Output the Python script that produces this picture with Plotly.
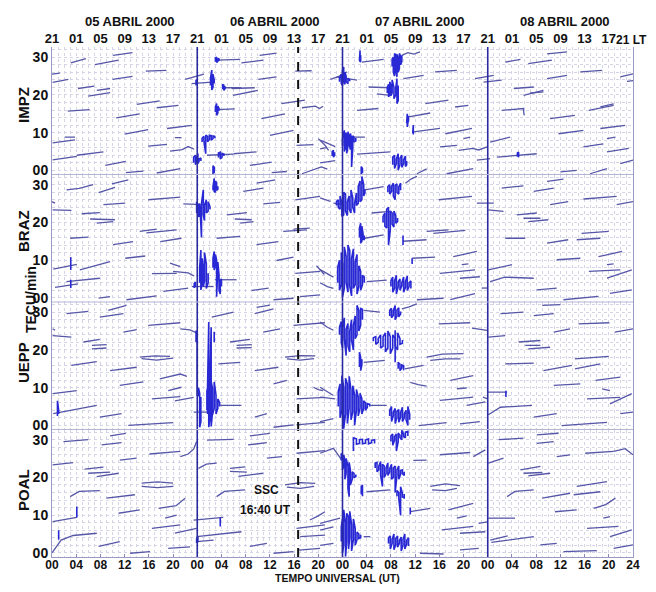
import plotly.graph_objects as go

# ---------------- data (hours UT since 05 Apr 00 UT, TEC rate offset units) -------------
STATIONS = ["IMPZ", "BRAZ", "UEPP", "POAL"]
UT_TICKS = list(range(0, 97, 4))
UT_LABELS = ["00", "04", "08", "12", "16", "20"] * 4 + ["24"]
LT_LABELS = ["21", "01", "05", "09", "13", "17"] * 4 + [""]
LT_END_LABEL = "21 LT"
Y_TICKS = [0, 10, 20, 30]
Y_LABELS = ["00", "10", "20", "30"]
DATES = ["05 ABRIL 2000", "06 ABRIL 2000", "07 ABRIL 2000", "08 ABRIL 2000"]
DATE_POS = [12.9, 36.9, 60.8, 84.8]
DAY_BOUNDS = [24, 48, 72]
SSC_TIME = 40.67

# segments: flattened (t, value) points of each satellite pass
IMPZ_SEGS = [
    (0.0, 25.5, 1.3, 25.8), (0.1, 23.3, 2.7, 24.1), (3.1, 28.5, 5.6, 29.6), (7.1, 28.0, 11.0, 29.2),
    (10.1, 30.5, 13.3, 31.2), (4.3, 21.7, 7.0, 22.3), (7.4, 21.2, 9.6, 21.7), (6.0, 19.7, 9.6, 20.6),
    (10.0, 24.1, 13.3, 24.9), (15.5, 26.3, 18.9, 26.5), (22.0, 24.1, 25.1, 25.5), (2.6, 15.7, 6.2, 16.1),
    (10.6, 13.9, 14.5, 15.0), (14.0, 17.5, 17.8, 18.4), (17.3, 16.6, 20.9, 17.2), (0.1, 7.3, 3.8, 8.1),
    (2.1, 8.8, 3.8, 8.8), (12.0, 9.6, 15.9, 10.8), (19.0, 11.1, 23.1, 11.9), (20.3, 8.7, 21.4, 8.7),
    (15.9, 6.4, 19.0, 6.9), (19.5, 5.1, 21.5, 5.5, 22.5, 6.3, 23.5, 5.6), (0.1, 2.8, 4.1, 3.7),
    (4.1, 4.0, 8.5, 4.9), (8.8, 1.3, 12.2, 2.4), (12.2, -0.6, 15.1, -0.2), (17.3, -0.7, 21.2, 0.45),
    (23.1, 23.0, 26.4, 23.4), (27.2, 29.2, 31.1, 29.4), (28.4, 21.9, 31.3, 21.9), (27.2, 16.1, 30.2, 16.3),
    (25.6, 4.0, 30.0, 4.3), (30.0, 4.4, 33.8, 4.9), (29.7, 21.7, 33.5, 21.9), (29.9, 19.9, 34.0, 21.2),
    (31.3, 28.5, 34.9, 29.2), (34.3, 30.5, 37.1, 31.1), (34.1, 24.1, 37.1, 24.8), (34.6, 13.7, 38.5, 15.0),
    (36.0, 9.3, 39.9, 10.6), (32.7, 1.3, 36.3, 2.2), (36.3, -0.6, 38.8, -0.3), (37.9, 17.7, 41.8, 18.6),
    (40.2, 26.3, 42.9, 26.4), (40.4, 6.6, 43.2, 6.8), (41.3, 16.6, 43.5, 17.0, 44.2, 16.4, 44.8, 17.0),
    (41.3, -0.9, 43.5, 0.2, 44.5, 0.9, 45.5, 0.3), (44.0, 8.4, 44.6, 7.4, 45.2, 6.5, 45.7, 5.3),
    (44.3, 5.7, 45.4, 6.0), (46.0, 24.1, 47.5, 25.0, 48.7, 26.1), (47.0, 24.8, 50.4, 23.9),
    (44.3, 2.0, 46.8, 2.6), (44.3, 8.0, 45.5, 7.2, 46.8, 6.3),
    (49.8, 8.8, 51.7, 8.8), (50.4, 4.3, 55.9, 4.9), (51.2, 28.7, 54.8, 29.4), (52.3, 22.1, 55.9, 21.9),
    (50.4, 15.9, 53.9, 16.4), (57.8, 30.5, 58.8, 31.2, 59.8, 30.8, 60.8, 31.4), (53.7, 20.3, 55.9, 19.9),
    (58.1, 24.3, 61.4, 25.2), (58.7, 14.1, 62.5, 15.2), (59.7, 10.2, 64.1, 11.1), (60.3, -0.9, 61.9, 0.4),
    (61.7, 17.7, 65.5, 18.6), (63.3, 26.1, 66.9, 26.5), (64.1, 6.2, 66.9, 6.6), (65.0, 9.7, 69.4, 11.1),
    (65.2, -0.9, 69.6, 0.45), (66.6, 16.8, 68.8, 17.2), (68.0, 8.4, 69.1, 8.8),
    (67.2, 5.3, 69.5, 5.8, 70.5, 5.4, 71.9, 6.2), (69.9, 24.3, 73.0, 25.2), (71.3, 23.4, 74.3, 23.9),
    (70.2, 2.7, 72.4, 3.1),
    (74.9, 28.7, 77.4, 29.4), (78.7, 28.3, 82.6, 29.2), (81.8, 30.9, 85.1, 31.4), (76.3, 21.7, 79.6, 22.1),
    (77.9, 19.9, 81.2, 21.2), (79.0, 20.5, 81.2, 20.8), (81.8, 24.3, 85.1, 25.2), (87.3, 26.1, 90.9, 26.5),
    (74.3, 15.9, 77.9, 16.4, 78.0, 14.6), (82.3, 13.7, 86.4, 14.6), (88.7, 15.9, 92.8, 17.2),
    (90.6, 16.8, 92.8, 17.6), (83.7, 9.7, 87.8, 10.6), (90.6, 11.1, 94.7, 11.9), (91.7, 8.4, 93.1, 8.8),
    (87.8, 6.2, 91.1, 7.0), (91.7, 4.9, 95.3, 5.8), (93.9, 24.8, 96.0, 25.6), (95.0, 23.6, 96.0, 23.8),
    (93.9, 1.8, 96.0, 2.7), (73.5, 3.5, 80.1, 4.4), (72.4, 7.5, 75.7, 8.8), (84.0, -0.4, 86.7, 0.0),
    (88.9, -0.9, 91.7, 0.45),
]
BRAZ_SEGS = [
    (2.4, 28.6, 4.5, 29.0, 6.8, 30.0), (7.7, 27.9, 10.4, 29.3), (9.9, 30.2, 12.6, 31.3), (0.0, 25.5, 0.5, 25.1),
    (0.1, 23.3, 3.2, 23.2), (8.5, 24.7, 12.1, 25.1), (15.9, 26.0, 21.2, 26.7), (21.7, 24.9, 25.0, 24.7),
    (4.9, 22.3, 7.9, 22.6), (6.3, 20.9, 10.4, 20.7), (7.4, 19.8, 10.1, 20.2), (14.5, 17.6, 17.3, 18.2),
    (15.6, 17.2, 20.6, 18.0), (3.0, 15.8, 6.0, 16.1), (10.1, 14.1, 13.4, 14.9), (17.9, 14.9, 21.4, 15.8),
    (0.2, 7.6, 4.1, 8.9), (4.6, 7.4, 9.6, 9.6), (12.1, 10.5, 15.4, 11.1), (19.5, 9.2, 21.2, 8.3),
    (16.5, 6.4, 20.6, 6.5), (20.0, 7.0, 22.5, 6.6, 23.5, 5.8), (0.5, 2.8, 4.3, 3.7), (2.4, 4.3, 7.9, 5.2),
    (12.3, -0.5, 17.3, 0.5), (7.7, -0.1, 9.6, 0.35), (18.4, 1.7, 22.5, 2.6),
    (23.1, 3.0, 26.7, 3.0), (26.9, 4.8, 30.5, 4.8), (28.9, 22.0, 32.2, 22.6), (31.6, 28.2, 34.9, 29.1),
    (33.8, 30.4, 36.9, 31.3), (34.9, 24.9, 37.7, 25.3), (30.2, 20.9, 33.0, 20.7), (31.1, 19.8, 33.3, 20.2),
    (38.2, 17.6, 42.1, 18.0), (39.9, 18.2, 42.6, 18.5), (27.2, 15.8, 31.1, 16.3), (33.8, 14.1, 37.4, 14.9),
    (37.1, 9.9, 39.9, 10.8), (33.0, 1.95, 35.8, 2.6), (36.6, -0.5, 39.9, -0.1), (40.2, 26.0, 44.3, 26.9),
    (40.2, 6.5, 44.3, 7.0), (43.7, 8.5, 44.3, 7.5, 45.0, 6.2), (41.0, 0.35, 44.3, 0.8),
    (44.3, 26.5, 45.5, 25.8, 46.0, 25.6), (46.5, 25.1, 48.2, 24.7), (44.3, 7.5, 45.5, 6.5, 46.5, 5.5),
    (44.3, 4.0, 45.5, 3.0, 46.5, 2.5),
    (51.7, 28.6, 54.8, 29.5), (58.4, 30.4, 59.3, 31.5, 60.3, 32.2), (52.8, 22.5, 55.9, 22.9),
    (51.7, 15.8, 54.8, 16.7), (58.0, 15.0, 61.9, 15.4), (52.0, 4.3, 55.3, 4.7), (59.5, 10.5, 63.3, 10.8),
    (60.3, -0.5, 64.7, -0.1), (63.9, 26.0, 69.4, 26.9), (61.9, 17.6, 65.5, 18.0), (63.0, 17.1, 68.3, 17.9),
    (66.3, 10.9, 70.2, 12.3), (67.7, 8.8, 68.8, 9.0), (64.1, 6.5, 69.9, 7.4), (67.4, 5.2, 70.7, 5.6),
    (70.2, 25.1, 73.0, 25.1), (65.8, -0.5, 69.9, 1.1), (71.0, 2.6, 71.9, 2.6),
    (74.3, 29.1, 77.9, 29.7), (79.6, 28.2, 82.9, 29.1), (81.8, 30.9, 84.5, 31.5), (72.1, 23.3, 74.6, 22.9),
    (76.8, 22.0, 80.1, 22.5), (77.9, 21.1, 80.7, 21.1), (78.7, 20.2, 82.0, 20.7), (82.3, 24.7, 85.3, 25.5),
    (87.8, 26.2, 93.3, 26.9), (93.3, 24.7, 96.0, 25.5), (74.9, 15.8, 78.2, 15.8), (81.8, 14.5, 85.3, 15.4),
    (86.7, 15.4, 90.6, 15.8), (87.5, 17.1, 92.0, 17.6), (83.4, 10.1, 87.3, 10.5), (90.3, 10.9, 94.2, 12.3),
    (91.7, 8.8, 92.8, 9.0), (72.1, 7.4, 76.0, 8.8), (88.7, 7.0, 93.9, 7.4), (91.7, 5.2, 95.8, 7.4),
    (72.4, 4.3, 74.8, 5.5, 79.6, 5.2), (80.1, 2.1, 83.4, 2.6), (84.5, -0.5, 90.3, 0.4), (92.2, 1.2, 95.8, 2.1),
]
UEPP_SEGS = [
    (2.4, 29.6, 6.0, 30.2), (7.9, 28.7, 11.8, 29.6), (9.3, 30.5, 12.3, 31.8), (0.1, 23.8, 3.2, 23.4),
    (0.1, 25.6, 0.5, 25.2), (11.8, 24.7, 14.0, 25.4), (15.9, 26.5, 21.2, 27.2),
    (21.2, 25.6, 22.8, 25.3, 23.9, 24.5), (5.2, 22.1, 7.9, 22.8), (6.6, 21.2, 9.0, 21.4), (6.6, 20.3, 9.0, 20.5),
    (14.5, 18.1, 17.0, 18.4, 19.5, 18.3), (14.8, 17.7, 17.3, 17.3, 20.0, 17.8), (3.2, 15.9, 7.4, 16.9),
    (9.6, 14.5, 14.0, 15.4), (17.8, 12.3, 20.0, 13.2, 21.2, 13.6, 22.3, 13.0), (0.1, 8.4, 4.1, 9.2),
    (11.2, 10.6, 15.1, 11.5), (19.2, 9.2, 21.4, 10.1), (16.5, 7.0, 21.2, 7.6), (20.3, 6.5, 23.4, 7.4),
    (0.2, 3.1, 3.0, 4.0, 7.4, 5.3), (7.9, 2.2, 11.5, 3.1), (12.6, 0.0, 20.0, 0.7),
    (23.4, 3.5, 26.7, 3.5), (26.4, 28.7, 30.0, 30.0), (27.5, 16.3, 31.1, 16.7), (27.8, 5.3, 31.3, 5.3),
    (29.4, 22.1, 32.7, 22.8), (30.5, 21.2, 33.0, 21.4), (30.5, 20.5, 33.0, 20.6), (33.5, 29.6, 36.6, 30.9),
    (33.8, 31.3, 36.0, 31.9), (34.9, 24.7, 37.7, 25.6), (33.5, 14.5, 37.4, 15.4), (36.6, 11.0, 38.8, 11.9),
    (33.5, 2.2, 35.5, 3.1), (36.6, -0.5, 39.9, 0.1), (38.5, 18.1, 41.0, 18.5, 43.5, 18.4),
    (38.8, 17.6, 41.0, 17.3, 43.3, 17.7), (39.9, 26.5, 45.1, 27.2), (40.4, 7.0, 45.1, 7.4),
    (43.2, 10.1, 44.0, 9.5, 44.8, 9.2), (40.4, 0.1, 45.1, 0.8), (44.3, 27.4, 45.5, 26.0, 46.5, 25.2),
    (44.3, 10.1, 45.5, 8.8, 46.5, 7.9), (44.3, 7.5, 46.8, 7.0), (44.3, 1.0, 46.5, 1.8),
    (51.5, 30.5, 54.2, 30.0), (57.8, 30.9, 59.0, 31.4, 60.3, 32.2), (51.5, 16.7, 55.0, 17.2),
    (58.3, 15.0, 61.4, 15.9), (52.6, 5.3, 55.3, 5.3), (59.2, 11.4, 60.5, 10.8, 61.9, 10.4),
    (60.6, -0.05, 65.2, 0.7), (63.9, 26.9, 69.1, 27.2), (61.9, 18.1, 64.5, 18.9, 68.0, 19.0),
    (62.5, 17.2, 65.0, 17.6, 67.5, 17.6), (65.8, 11.9, 69.6, 13.2), (66.9, 9.7, 68.5, 9.9),
    (64.1, 6.6, 69.6, 7.5), (68.5, 5.3, 71.6, 6.2), (69.4, 25.8, 71.9, 25.2), (67.4, 0.4, 70.7, 1.0),
    (71.2, 7.5, 72.0, 7.0),
    (72.1, 23.4, 74.9, 23.8), (74.1, 29.6, 77.9, 30.0), (79.6, 29.1, 82.9, 29.6), (81.0, 31.8, 84.0, 32.0),
    (77.1, 22.1, 80.7, 22.5), (78.2, 21.2, 80.7, 21.2), (78.7, 20.3, 82.3, 20.7), (82.9, 24.7, 85.6, 25.6),
    (87.0, 26.9, 92.1, 27.2), (93.0, 24.7, 96.0, 25.6), (74.9, 16.3, 79.6, 16.5), (81.2, 14.5, 85.9, 15.9),
    (86.4, 15.0, 90.6, 16.3), (86.4, 17.6, 92.0, 18.3), (82.9, 10.6, 87.3, 11.0), (89.8, 11.9, 93.9, 12.8),
    (90.9, 9.7, 92.2, 9.2), (71.9, 8.8, 75.2, 8.8), (88.4, 7.0, 93.9, 7.4), (92.2, 5.7, 95.8, 8.4),
    (72.1, 2.8, 74.1, 4.8, 79.3, 5.3), (79.6, 2.2, 83.4, 3.1), (84.2, -0.05, 91.7, 0.8), (93.9, 3.1, 96.0, 3.5),
]
POAL_SEGS = [
    (1.9, 29.5, 6.0, 30.0), (8.2, 28.6, 11.5, 29.2), (9.6, 31.0, 12.2, 31.7), (0.1, 23.3, 3.5, 23.9),
    (11.2, 24.6, 14.0, 25.1), (16.1, 26.2, 21.2, 26.9), (21.2, 25.5, 22.5, 26.2, 23.4, 27.5, 23.9, 29.5),
    (5.4, 22.2, 8.5, 22.7), (6.0, 21.1, 9.6, 21.4), (7.4, 20.2, 11.0, 21.1),
    (14.8, 18.5, 17.4, 18.8, 20.0, 18.5), (14.8, 17.6, 17.4, 17.3, 20.0, 17.6),
    (3.0, 14.9, 4.5, 16.3, 7.9, 16.5), (9.0, 14.5, 13.7, 15.4), (17.6, 11.8, 20.5, 12.5, 22.0, 14.5),
    (0.1, 8.3, 4.1, 9.4), (11.0, 10.5, 14.5, 11.4), (18.7, 9.2, 20.6, 10.0), (16.5, 6.5, 21.2, 7.4),
    (20.3, 5.2, 23.9, 6.5), (0.0, 0.0, 1.5, 3.4, 3.5, 4.6, 7.4, 5.2), (7.7, 1.7, 11.2, 3.0),
    (12.9, -0.1, 16.2, 0.3), (19.2, 1.2, 22.8, 1.6),
    (23.9, 4.3, 27.5, 5.0, 31.3, 5.6), (23.9, 3.0, 26.7, 3.4), (24.2, 22.4, 25.5, 23.5, 27.2, 23.8),
    (25.6, 29.9, 30.0, 30.1), (27.2, 14.9, 28.5, 16.3, 31.9, 16.7), (23.4, 8.7, 28.3, 9.4),
    (29.4, 22.4, 31.9, 22.8), (29.4, 21.6, 32.2, 21.4), (30.8, 20.3, 34.9, 21.1), (32.4, 28.6, 35.5, 29.2),
    (32.7, 31.0, 36.0, 31.7), (35.5, 25.1, 38.0, 25.5), (32.7, 1.7, 35.5, 2.5), (36.6, -0.1, 39.9, 0.3),
    (38.5, 18.0, 41.0, 18.6, 43.5, 18.4), (38.8, 17.4, 41.0, 17.1, 43.3, 17.6), (40.4, 26.4, 45.1, 27.1),
    (42.6, 8.7, 44.0, 9.8, 45.1, 10.9), (40.4, 6.5, 45.1, 7.4), (41.0, 4.3, 45.1, 4.7), (40.7, 0.7, 44.3, 1.2),
    (44.3, 26.4, 46.5, 27.7, 47.9, 24.6), (44.3, 7.8, 46.0, 8.5, 47.6, 9.2), (44.3, 6.0, 46.5, 6.9),
    (44.3, 2.0, 46.5, 2.5),
    (59.7, 24.5, 61.9, 24.6), (52.0, 16.2, 55.9, 16.7), (59.2, 10.9, 62.5, 11.8), (51.5, 4.3, 52.6, 4.3),
    (60.8, -0.1, 64.7, -0.3), (64.1, 26.0, 69.1, 26.6), (69.6, 25.5, 70.7, 26.5, 71.6, 27.3),
    (62.5, 17.6, 65.0, 18.3, 67.4, 17.8), (62.8, 16.7, 65.0, 16.5, 66.9, 17.1), (65.5, 11.4, 69.6, 13.1),
    (66.9, 9.2, 68.5, 9.8), (64.4, 6.1, 69.6, 7.0), (67.4, 5.2, 71.6, 5.6), (67.4, 0.8, 70.5, 1.2),
    (70.5, 7.8, 71.9, 8.2),
    (73.8, 30.0, 77.9, 30.4), (80.1, 31.3, 83.7, 31.7), (80.1, 29.0, 82.9, 29.5),
    (72.1, 23.8, 73.5, 24.6, 74.6, 25.1), (77.4, 22.0, 80.7, 22.9), (77.9, 21.1, 81.0, 21.3),
    (78.7, 20.4, 82.3, 21.1), (83.4, 25.5, 85.6, 26.0), (88.1, 26.4, 92.8, 26.9),
    (92.8, 26.9, 93.8, 27.3, 94.7, 27.6, 96.0, 26.0), (75.2, 14.9, 76.5, 16.3, 79.6, 16.7),
    (81.0, 14.5, 85.6, 15.8), (86.2, 15.4, 90.6, 16.2), (86.7, 17.6, 91.7, 18.9), (83.1, 10.9, 86.7, 11.4),
    (89.5, 11.8, 91.5, 12.8, 93.1, 14.5), (91.1, 9.2, 92.2, 9.6), (72.1, 9.2, 76.5, 9.2),
    (88.4, 6.5, 93.6, 7.0), (92.2, 4.3, 95.8, 6.1), (72.4, 3.4, 75.3, 4.5), (72.6, 2.8, 76.0, 3.5, 79.6, 4.3),
    (80.7, 2.1, 83.4, 2.5), (84.5, 0.3, 90.0, 0.6), (92.8, 1.2, 96.0, 2.1),
]

# disturbed intervals: (t, low, high) excursions
IMPZ_BURSTS = [
    [(23.4, 2.0, 3.5), (23.7, 1.5, 4.0), (23.9, 2.2, 3.2), (24.1, 1.8, 4.5), (24.3, 2.4, 3.0), (24.6, 2.5, 3.3)],
    [(23.8, 22.5, 24.0), (24.0, 22.8, 23.6)],
    [(26.2, 22.5, 24.5), (26.4, 21.3, 26.6), (26.6, 22.0, 25.5), (26.8, 23.0, 24.0)],
    [(27.0, 28.8, 29.8), (27.2, 28.6, 30.0), (27.4, 28.9, 29.7), (27.6, 29.0, 29.5)],
    [(28.2, 21.5, 22.8), (28.4, 21.2, 22.6), (28.6, 21.7, 22.3)],
    [(27.0, 15.5, 16.8), (27.2, 14.6, 17.7), (27.4, 15.2, 17.0), (27.6, 15.8, 16.4)],
    [(24.8, 7.5, 8.5), (25.1, 7.8, 9.0), (25.4, 4.4, 9.3), (25.7, 7.6, 9.0), (26.0, 8.2, 9.3), (26.3, 8.0, 9.2),
     (26.6, 8.4, 9.1), (26.9, 8.5, 9.0)],
    [(27.5, 3.4, 4.6), (27.8, 3.0, 4.8), (28.1, 3.5, 4.5), (28.4, 3.8, 4.3)],
    [(26.6, -1.0, 1.2), (26.8, -0.8, 0.8)],
    [(47.5, 23.5, 24.5), (47.8, 23.0, 25.5), (48.0, 22.5, 26.5), (48.2, 23.5, 27.4), (48.4, 22.8, 26.0),
     (48.6, 23.5, 25.0), (48.9, 23.0, 24.2), (49.2, 23.6, 24.0)],
    [(48.0, 6.5, 8.5), (48.3, 5.0, 10.6), (48.5, 6.0, 10.0), (48.7, 4.5, 9.5), (48.9, 6.5, 10.2), (49.1, 7.0, 9.0),
     (49.3, 5.5, 9.8), (49.5, 0.9, 8.5), (49.7, 6.0, 9.2), (49.9, 7.5, 8.8), (50.2, 7.8, 8.6)],
    [(46.3, 3.8, 5.0), (46.5, 3.5, 5.3), (46.7, 4.0, 4.8)],
    [(50.8, 29.0, 31.0), (50.9, 28.7, 31.8), (51.0, 28.9, 30.5)],
    [(56.2, 27.5, 29.5), (56.4, 26.0, 30.0), (56.6, 25.0, 31.0), (56.8, 26.5, 30.5), (57.0, 24.8, 30.8),
     (57.2, 26.0, 29.8), (57.4, 27.0, 31.0), (57.6, 28.0, 30.2), (57.8, 28.8, 30.5)],
    [(55.4, 20.5, 22.0), (55.6, 19.5, 22.8), (55.8, 20.0, 23.5), (56.0, 19.8, 22.5), (56.2, 20.5, 24.0),
     (56.5, 19.0, 22.0), (56.8, 20.0, 21.8), (57.0, 17.7, 24.3), (57.2, 18.5, 22.5)],
    [(58.6, 12.5, 14.5), (58.7, 11.5, 15.0), (58.9, 13.5, 14.5)],
    [(59.6, 9.8, 11.5), (59.7, 9.5, 12.0)],
    [(56.3, 1.5, 3.5), (56.6, 0.5, 4.0), (56.9, 1.8, 3.0), (57.2, 0.0, 4.4), (57.5, 1.5, 3.2), (57.8, 0.8, 4.0),
     (58.1, 1.8, 2.8), (58.4, 1.0, 3.8), (58.6, 1.5, 2.5)],
    [(51.1, -1.0, 1.0), (51.3, -0.8, 0.5)],
    [(76.9, 3.6, 4.6), (77.1, 3.5, 4.8)],
]
BRAZ_BURSTS = [
    [(3.1, 7.4, 10.8)], [(3.1, 2.6, 4.8)],
    [(23.9, 22.5, 25.5), (24.1, 22.0, 24.5), (24.3, 21.5, 25.0), (24.5, 22.4, 24.0), (24.7, 16.0, 25.0),
     (25.0, 22.0, 28.6), (25.2, 20.5, 24.5), (25.5, 22.5, 26.0), (25.8, 23.0, 25.5), (26.1, 23.4, 24.2)],
    [(26.6, 28.5, 29.5), (26.8, 28.2, 31.7), (27.0, 28.0, 31.0), (27.2, 28.5, 30.5), (27.4, 28.8, 29.6)],
    [(24.4, 4.0, 8.0), (24.6, 2.1, 12.7), (24.8, 4.0, 10.5), (25.0, 3.0, 8.0), (25.2, 4.5, 12.0), (25.5, 2.5, 9.0),
     (25.8, 4.0, 6.5)],
    [(26.6, 8.0, 10.5), (26.8, 7.4, 12.3), (27.0, 8.5, 11.5), (27.2, 0.3, 10.0), (27.4, 7.5, 9.5), (27.6, 2.0, 6.0),
     (27.8, 1.0, 4.5), (28.0, 3.0, 5.0)],
    [(23.5, 2.6, 3.8), (23.7, 2.8, 4.2)],
    [(47.0, 24.5, 25.5), (47.3, 24.0, 26.0), (47.6, 23.5, 27.0), (47.9, 21.6, 25.0), (48.2, 22.0, 28.0),
     (48.5, 23.0, 27.5), (48.8, 21.8, 25.5), (49.1, 23.5, 27.0), (49.4, 22.5, 28.6), (49.7, 24.0, 26.5),
     (50.0, 22.5, 25.0), (50.3, 24.5, 27.8), (50.6, 25.0, 29.5), (50.9, 25.5, 31.0), (51.2, 26.0, 32.2),
     (51.5, 27.0, 30.0), (51.7, 27.8, 28.8)],
    [(55.5, 28.0, 29.5), (55.8, 27.5, 30.0), (56.1, 28.2, 29.5), (56.4, 27.0, 30.4), (56.7, 26.0, 29.8),
     (57.0, 28.0, 30.2), (57.3, 27.5, 29.4), (57.6, 28.5, 30.4)],
    [(54.7, 20.0, 21.5), (55.0, 19.0, 22.5), (55.3, 18.5, 23.5), (55.6, 14.0, 24.0), (55.9, 18.0, 23.0),
     (56.2, 19.5, 22.5), (56.5, 18.8, 23.0), (56.8, 19.8, 21.8), (57.1, 20.2, 21.2)],
    [(50.8, 16.0, 18.5), (51.0, 14.5, 19.8), (51.2, 15.0, 19.0), (51.4, 15.5, 17.0), (51.6, 15.5, 16.5)],
    [(58.0, 14.0, 16.5)],
    [(47.2, 4.0, 8.0), (47.5, 2.0, 10.0), (47.8, 3.5, 12.0), (48.0, 0.3, 9.0), (48.3, 2.5, 13.5), (48.6, 4.0, 11.0),
     (48.9, 1.5, 14.0), (49.2, 3.0, 12.5), (49.5, 0.5, 10.5), (49.8, 2.5, 13.0), (50.1, 3.5, 9.5), (50.4, 1.0, 11.5),
     (50.7, 3.0, 8.5), (51.0, 2.0, 7.0), (51.3, 3.5, 6.0), (51.6, 4.0, 5.5)],
    [(56.0, 3.0, 4.5), (56.3, 1.5, 5.5), (56.6, 2.5, 4.5), (56.9, 1.0, 6.0), (57.2, 3.0, 4.2), (57.5, 2.0, 5.0),
     (57.8, 3.2, 4.0), (58.1, 1.5, 5.5), (58.4, 2.8, 4.3), (58.7, 2.0, 5.8), (59.0, 3.0, 4.0), (59.3, 2.5, 4.5)],
    [(59.5, 9.0, 10.5)],
]
UEPP_BURSTS = [
    [(0.9, 2.5, 6.5), (1.1, 3.0, 4.0)],
    [(23.8, 22.0, 25.1), (24.0, 8.0, 24.5), (24.2, 7.9, 10.0), (24.4, -0.5, 8.5), (24.6, 1.0, 7.5)],
    [(25.7, 3.0, 10.0), (25.9, -0.5, 27.4), (26.1, 2.0, 12.0), (26.3, -0.3, 26.0), (26.5, 3.0, 9.0)],
    [(25.6, 4.0, 9.0), (25.9, 2.6, 11.0), (26.2, 5.0, 12.3), (26.5, 2.8, 10.0), (26.8, 4.5, 11.5), (27.1, 3.0, 8.0),
     (27.4, 4.5, 7.0), (27.7, 5.0, 6.0)],
    [(26.8, 22.0, 24.8)],
    [(47.5, 24.0, 26.0), (47.8, 22.0, 27.5), (48.0, 20.5, 26.0), (48.3, 23.0, 28.5), (48.6, 18.5, 25.5),
     (48.9, 21.0, 27.0), (49.2, 19.5, 25.0), (49.5, 22.5, 28.0), (49.8, 20.0, 26.5), (50.1, 23.0, 29.0),
     (50.4, 24.0, 31.8), (50.7, 25.0, 30.5), (51.0, 26.5, 31.0), (51.3, 28.0, 30.8)],
    [(53.1, 22.3, 23.2), (53.5, 21.5, 23.5), (53.9, 22.0, 23.0), (54.3, 20.5, 24.0), (54.7, 21.0, 23.5),
     (55.1, 19.5, 24.5), (55.5, 20.5, 25.0), (55.9, 19.0, 23.5), (56.3, 20.5, 24.0), (56.7, 21.0, 23.0),
     (57.1, 20.0, 24.5), (57.5, 21.5, 23.0), (57.9, 21.8, 22.6)],
    [(55.8, 29.0, 30.5), (56.1, 28.5, 31.0), (56.4, 29.2, 30.4), (56.7, 28.0, 31.8), (57.0, 29.0, 30.5),
     (57.3, 28.8, 31.2), (57.6, 29.5, 30.2)],
    [(56.7, 16.7, 25.2)],
    [(50.8, 15.5, 19.4), (51.0, 14.5, 18.0), (51.2, 16.0, 17.5)],
    [(57.2, 15.0, 16.7), (57.5, 14.5, 16.2), (57.8, 15.2, 16.0), (58.1, 14.6, 15.8)],
    [(47.3, 5.0, 9.0), (47.6, 2.0, 11.0), (47.9, 4.0, 13.2), (48.2, -0.9, 10.0), (48.5, 3.0, 12.5), (48.8, 0.5, 11.0),
     (49.1, 4.5, 13.0), (49.4, 1.5, 9.5), (49.7, 3.5, 10.5), (50.0, 0.0, 8.0), (50.3, 4.0, 9.5), (50.6, 2.5, 7.5),
     (50.9, 4.5, 8.5), (51.2, 3.0, 7.0), (51.5, 4.5, 6.5), (51.8, 4.0, 6.0), (52.1, 4.8, 5.8), (52.5, 5.0, 5.6)],
    [(55.8, 2.5, 4.0), (56.1, 1.0, 5.0), (56.4, 2.5, 3.5), (56.7, 0.5, 4.5), (57.0, 2.0, 3.8), (57.3, 0.8, 4.2),
     (57.6, 2.2, 3.4), (57.9, 1.0, 4.8), (58.2, 2.0, 3.0), (58.5, 1.5, 4.0), (58.8, 0.0, 5.0), (59.1, 1.5, 3.0)],
    [(75.0, 7.5, 9.2)],
]
POAL_BURSTS = [
    [(4.1, 9.4, 12.3)], [(1.1, 3.5, 6.0)],
    [(23.9, 2.6, 3.8), (24.1, 2.8, 4.2)], [(27.8, 7.0, 9.4)],
    [(47.8, 24.5, 26.4), (48.0, 22.0, 25.5), (48.2, 23.0, 26.0), (48.4, 19.5, 24.5), (48.6, 21.0, 25.0),
     (48.9, 17.0, 23.0), (49.1, 14.9, 24.0), (49.3, 18.0, 22.0), (49.6, 19.5, 21.5), (49.9, 20.0, 21.0),
     (50.2, 20.2, 20.8)],
    [(49.8, 27.0, 30.5), (50.3, 28.8, 30.2), (50.8, 29.0, 30.0), (51.3, 28.9, 30.1), (51.8, 29.1, 29.9),
     (52.3, 28.9, 30.2), (52.8, 29.2, 29.8), (53.3, 29.0, 30.0)],
    [(56.0, 29.5, 31.0), (56.3, 28.5, 31.5), (56.6, 29.8, 30.8), (56.9, 27.0, 31.5), (57.2, 29.5, 31.8),
     (57.5, 30.5, 31.2), (57.8, 30.0, 32.5), (58.1, 30.8, 31.5), (58.4, 30.5, 32.0), (58.8, 31.0, 32.2)],
    [(53.4, 22.5, 23.8), (53.7, 21.5, 24.0), (54.0, 22.0, 23.0), (54.3, 20.5, 24.2), (54.6, 17.6, 23.5),
     (54.9, 20.0, 23.0), (55.2, 21.0, 22.5), (55.5, 20.5, 23.8), (55.8, 21.5, 22.3), (56.1, 19.5, 23.5),
     (56.4, 20.0, 22.5), (56.7, 16.0, 23.0), (57.0, 20.5, 22.0), (57.3, 19.5, 23.0), (57.6, 20.8, 21.8),
     (57.9, 21.0, 22.0), (58.2, 20.5, 21.5)],
    [(51.1, 15.5, 17.5), (51.3, 15.0, 18.0)],
    [(57.0, 15.0, 16.5), (57.3, 14.5, 16.0), (57.6, 10.0, 17.5), (57.9, 14.8, 15.8), (58.2, 14.6, 15.6)],
    [(59.2, 10.2, 12.0)],
    [(47.8, 3.0, 7.0), (48.0, 0.0, 9.0), (48.2, 2.0, 11.4), (48.5, -1.0, 8.0), (48.7, 3.0, 10.5), (49.0, 1.0, 9.5),
     (49.2, 4.0, 11.0), (49.5, 0.5, 7.5), (49.8, 3.5, 9.0), (50.1, 2.0, 6.5), (50.4, 3.5, 5.5), (50.7, 3.8, 5.0),
     (51.0, 4.0, 4.8)],
    [(55.6, 2.5, 4.0), (55.9, 1.0, 4.5), (56.2, 2.5, 3.6), (56.5, 0.8, 5.0), (56.8, 2.2, 3.8), (57.1, 1.5, 4.5),
     (57.4, 2.5, 3.2), (57.7, 0.5, 4.2), (58.0, 2.0, 3.6), (58.3, 1.0, 5.0), (58.6, 2.3, 3.3), (58.9, 1.8, 4.0)],
]

SEGS = {"IMPZ": IMPZ_SEGS, "BRAZ": BRAZ_SEGS, "UEPP": UEPP_SEGS, "POAL": POAL_SEGS}
BURSTS = {"IMPZ": IMPZ_BURSTS, "BRAZ": BRAZ_BURSTS, "UEPP": UEPP_BURSTS, "POAL": POAL_BURSTS}

# ---------------- styling --------------------------------------------------------------
FONT = "Liberation Sans, Arial, sans-serif"
SEG_COLOR = "#5656a8"
BURST_COLOR = "#2828d4"
GRID = "#d4d4e6"
AXIS_Y_RANGE = [-1.1, 32.7]

fig = go.Figure()
yaxes = ["y", "y2", "y3", "y4"]
domains = [[0.75, 1.0], [0.5, 0.75], [0.25, 0.5], [0.0, 0.25]]

for st, ya in zip(STATIONS, yaxes):
    xs, ys = [], []
    for seg in SEGS[st]:
        xs += list(seg[0::2]) + [None]
        ys += list(seg[1::2]) + [None]
    fig.add_trace(go.Scatter(x=xs, y=ys, mode="lines", xaxis="x", yaxis=ya,
                             line=dict(color=SEG_COLOR, width=1.3), hoverinfo="skip", showlegend=False))
    bx, by = [], []
    for burst in BURSTS[st]:
        for i, (t, lo, hi) in enumerate(burst):
            if i % 2 == 0:
                bx += [t, t]; by += [lo, hi]
            else:
                bx += [t, t]; by += [hi, lo]
        bx.append(None); by.append(None)
    fig.add_trace(go.Scatter(x=bx, y=by, mode="lines", xaxis="x", yaxis=ya,
                             line=dict(color=BURST_COLOR, width=1.6), hoverinfo="skip", showlegend=False))

# invisible trace to activate top (LT) axis
fig.add_trace(go.Scatter(x=[0, 96], y=[-50, -50], mode="markers", xaxis="x2", yaxis="y",
                         marker=dict(opacity=0), hoverinfo="skip", showlegend=False))

tickfont = dict(family=FONT, size=14, color="#111111", weight="bold")
topfont = dict(family=FONT, size=13, color="#111111", weight="bold")
bottomfont = dict(family=FONT, size=12, color="#111111", weight="bold")
# the page body adds an 8px margin on every side: keep the whole figure inside the window
layout = dict(
    width=640, height=576, paper_bgcolor="white", plot_bgcolor="white",
    margin=dict(l=44, r=15, t=39, b=27, autoexpand=False),
    showlegend=False,
    xaxis=dict(domain=[0, 1], range=[0, 96], anchor="y4", tickvals=UT_TICKS, ticktext=UT_LABELS,
               tickfont=bottomfont, ticks="inside", ticklen=3, tickcolor="#8888b8", ticklabelstandoff=-3,
               showgrid=True, gridcolor=GRID, griddash="dot", gridwidth=1,
               minor=dict(dtick=1, tick0=0, showgrid=True, gridcolor=GRID, griddash="dot"),
               showline=True, linecolor="#9a9ac4", mirror=False, zeroline=False, automargin=False),
    xaxis2=dict(overlaying="x", side="top", anchor="y", range=[0, 96], tickvals=UT_TICKS,
                ticktext=LT_LABELS, tickfont=topfont, ticks="", showgrid=False, zeroline=False,
                showline=False, automargin=False),
)
for ya, dom in zip(yaxes, domains):
    key = "yaxis" if ya == "y" else "yaxis" + ya[1:]
    layout[key] = dict(domain=dom, range=AXIS_Y_RANGE, anchor="x", tickvals=Y_TICKS, ticktext=Y_LABELS,
                       tickfont=tickfont, ticks="", showgrid=True, gridcolor=GRID, griddash="dot",
                       minor=dict(dtick=2, tick0=0, showgrid=True, gridcolor=GRID, griddash="dot"),
                       showline=True, linecolor="#9a9ac4", mirror=True, zeroline=False, automargin=False)
fig.update_layout(**layout)

shapes = []
for d in DAY_BOUNDS:
    shapes.append(dict(type="line", xref="x", yref="paper", x0=d, x1=d, y0=0, y1=1,
                       line=dict(color="#2a2aa0", width=1.6)))
shapes.append(dict(type="line", xref="x", yref="paper", x0=SSC_TIME, x1=SSC_TIME, y0=0, y1=1,
                   line=dict(color="#111111", width=2, dash="dash")))
for b in [0.25, 0.5, 0.75]:
    shapes.append(dict(type="line", xref="paper", yref="paper", x0=0, x1=1, y0=b, y1=b,
                       line=dict(color="#b4b4d4", width=1)))
fig.update_layout(shapes=shapes)


def px_x(px):
    return (px - 52) / 581


def px_y(py):
    return (557 - py) / 510


bold = lambda s: dict(family=FONT, size=s, color="#111111", weight="bold")
ann = []
for lab, pos in zip(DATES, DATE_POS):
    ann.append(dict(text=lab, x=pos, y=px_y(22), xref="x", yref="paper", showarrow=False,
                    xanchor="center", yanchor="middle", font=bold(13)))
ann.append(dict(text=LT_END_LABEL, x=px_x(648), y=px_y(40), xref="paper", yref="paper", showarrow=False,
                xanchor="right", yanchor="middle", borderpad=0, font=bold(12)))
ann.append(dict(text="TEMPO UNIVERSAL (UT)", x=px_x(337), y=px_y(577.5), xref="paper", yref="paper",
                showarrow=False, xanchor="center", yanchor="middle", borderpad=0, font=bold(10.5)))
station_y = [105, 231, 363, 490]
for st, py in zip(STATIONS, station_y):
    ann.append(dict(text=st, x=px_x(23), y=px_y(py), xref="paper", yref="paper", showarrow=False,
                    xanchor="center", yanchor="middle", textangle=-90, font=bold(15)))
ann.append(dict(text="TECU/min", x=px_x(31), y=px_y(300), xref="paper", yref="paper", showarrow=False,
                xanchor="center", yanchor="middle", textangle=-90, font=bold(14)))
ann.append(dict(text="SSC", x=35.5, y=16.7, xref="x", yref="y4", showarrow=False,
                xanchor="center", yanchor="middle", font=bold(12)))
ann.append(dict(text="16:40 UT", x=35.2, y=11.4, xref="x", yref="y4", showarrow=False,
                xanchor="center", yanchor="middle", font=bold(12)))
fig.update_layout(annotations=ann)

fig.write_html("out.html")
